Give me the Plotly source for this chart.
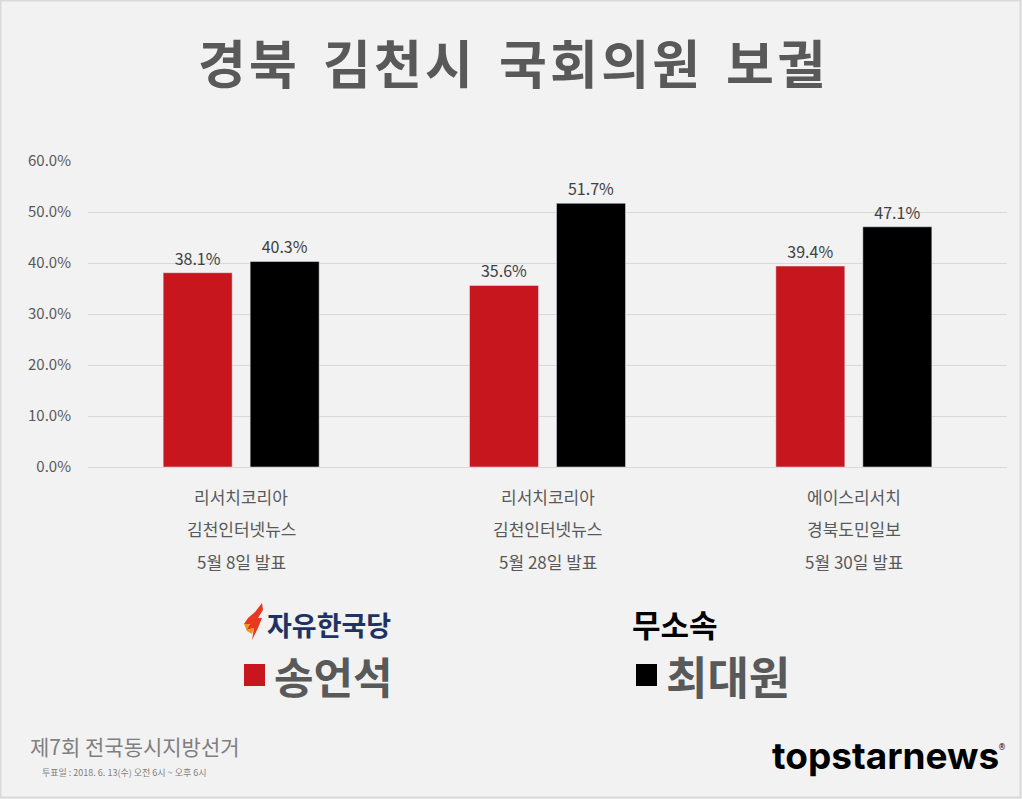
import plotly.graph_objects as go

# ---- data ----
categories = ["c1", "c2", "c3"]
cat_lines = [
    ["리서치코리아", "김천인터넷뉴스", "5월 8일 발표"],
    ["리서치코리아", "김천인터넷뉴스", "5월 28일 발표"],
    ["에이스리서치", "경북도민일보", "5월 30일 발표"],
]
song_values = [0.381, 0.356, 0.394]   # 송언석 (자유한국당)
choi_values = [0.403, 0.517, 0.471]   # 최대원 (무소속)
tick_vals = [0, 0.1, 0.2, 0.3, 0.4, 0.5, 0.6]
title_text = "경북 김천시 국회의원 보궐"

W, H = 1022, 799
ML, MR, MT, MB = 88, 15, 161, 332
PW = W - ML - MR
PH = H - MT - MB

def px(x):
    return (x - ML) / PW

def py(y):
    return (H - MB - y) / PH

FONT = "Noto Sans CJK KR"
RED = "#c8161e"
GRAY = "#595959"

def spaced(s, sep="\u200a", wsep="\u2002"):
    return wsep.join(sep.join(list(w)) for w in s.split(" "))

fig = go.Figure()
fig.add_trace(go.Bar(
    x=categories, y=song_values, name="송언석", marker_color=RED,
    texttemplate="%{y:.1%}", textposition="outside",
    textfont=dict(family=FONT, size=16, color="#404040"), cliponaxis=False,
))
fig.add_trace(go.Bar(
    x=categories, y=choi_values, name="최대원", marker_color="#000000",
    texttemplate="%{y:.1%}", textposition="outside",
    textfont=dict(family=FONT, size=16, color="#404040"), cliponaxis=False,
))

annotations = []
# title
annotations.append(dict(text="<b>" + spaced(title_text) + "</b>", x=px(511), xref="paper", y=py(61), yref="paper",
                        showarrow=False, font=dict(family=FONT, size=52, color=GRAY), xanchor="center", yanchor="middle"))
# category labels (3 lines each)
line_y = [496, 528, 561]
for cat, lines in zip(categories, cat_lines):
    for ly, txt in zip(line_y, lines):
        annotations.append(dict(text=txt, x=cat, xref="x", y=py(ly), yref="paper", showarrow=False,
                                font=dict(family=FONT, size=17, color=GRAY), xanchor="center", yanchor="middle"))
# legend-like block
annotations.append(dict(text="<b>자유한국당</b>", x=px(265), y=py(624), xref="paper", yref="paper", showarrow=False,
                        font=dict(family=FONT, size=27, color="#1f3260"), xanchor="left", yanchor="middle"))
annotations.append(dict(text="<b>무소속</b>", x=px(630), y=py(623), xref="paper", yref="paper", showarrow=False,
                        font=dict(family=FONT, size=31, color="#000000"), xanchor="left", yanchor="middle"))
annotations.append(dict(text="<b>송언석</b>", x=px(272), y=py(675), xref="paper", yref="paper", showarrow=False,
                        font=dict(family=FONT, size=43, color=GRAY), xanchor="left", yanchor="middle"))
annotations.append(dict(text="<b>최대원</b>", x=px(664), y=py(675), xref="paper", yref="paper", showarrow=False,
                        font=dict(family=FONT, size=45, color=GRAY), xanchor="left", yanchor="middle"))
# footer
annotations.append(dict(text="제7회 전국동시지방선거", x=px(28), y=py(746), xref="paper", yref="paper", showarrow=False,
                        font=dict(family=FONT, size=21, color="#7f7f7f"), xanchor="left", yanchor="middle"))
annotations.append(dict(text="투표일 : 2018. 6. 13(수) 오전 6시 ~ 오후 6시", x=px(40), y=py(772), xref="paper", yref="paper",
                        showarrow=False, font=dict(family=FONT, size=9, color="#7f7f7f"), xanchor="left", yanchor="middle"))
annotations.append(dict(text="<b>topstarnews</b>", x=px(770), y=py(755), xref="paper", yref="paper", showarrow=False,
                        font=dict(family="Inter", size=37, color="#000000"), xanchor="left", yanchor="middle"))
annotations.append(dict(text="®", x=px(996), y=py(747), xref="paper", yref="paper", showarrow=False,
                        font=dict(family="DejaVu Sans", size=8, color="#000000"), xanchor="left", yanchor="middle"))

shapes = []
# legend squares
shapes.append(dict(type="rect", xref="paper", yref="paper", x0=px(244), x1=px(265), y0=py(686), y1=py(664),
                   fillcolor=RED, line=dict(width=0)))
shapes.append(dict(type="rect", xref="paper", yref="paper", x0=px(636), x1=px(657), y0=py(686), y1=py(664),
                   fillcolor="#000000", line=dict(width=0)))
# flame icon for party logo
def path(points):
    return "M " + " L ".join(f"{px(a):.5f},{py(b):.5f}" for a, b in points) + " Z"
shapes.append(dict(type="path", xref="paper", yref="paper",
                   path=path([(262, 603), (255, 612), (248, 618), (244, 624), (250, 624), (246, 630), (254, 628), (252, 640), (258, 628), (262, 618), (258, 618), (263, 610)]),
                   fillcolor="#e8381f", line=dict(width=0)))
shapes.append(dict(type="path", xref="paper", yref="paper",
                   path=path([(244, 624), (250, 624), (246, 630), (254, 628), (252, 634), (247, 631)]),
                   fillcolor="#f7941d", line=dict(width=0)))
# outer border
shapes.append(dict(type="rect", xref="paper", yref="paper", x0=px(0.5), x1=px(W - 1.5), y0=py(H - 1.5), y1=py(0.5),
                   line=dict(color="#d9d9d9", width=2), fillcolor="rgba(0,0,0,0)", layer="below"))

fig.update_layout(
    width=W, height=H,
    margin=dict(l=ML, r=MR, t=MT, b=MB),
    paper_bgcolor="#f2f2f2", plot_bgcolor="#f2f2f2",
    barmode="group", bargap=0.432, bargroupgap=0.207,
    showlegend=False,
    annotations=annotations, shapes=shapes,
    font=dict(family=FONT),
)
fig.update_xaxes(showticklabels=False, showgrid=False, showline=False, zeroline=False)
fig.update_yaxes(range=[0, 0.6], tickvals=tick_vals, tickformat=".1%",
                 showgrid=True, gridcolor="#d9d9d9", gridwidth=1,
                 zeroline=True, zerolinecolor="#d9d9d9", zerolinewidth=1,
                 showline=False, ticks="", ticklabelstandoff=16,
                 tickfont=dict(family=FONT, size=15, color=GRAY))

fig.write_html("out.html", config={"displayModeBar": False, "responsive": False})
